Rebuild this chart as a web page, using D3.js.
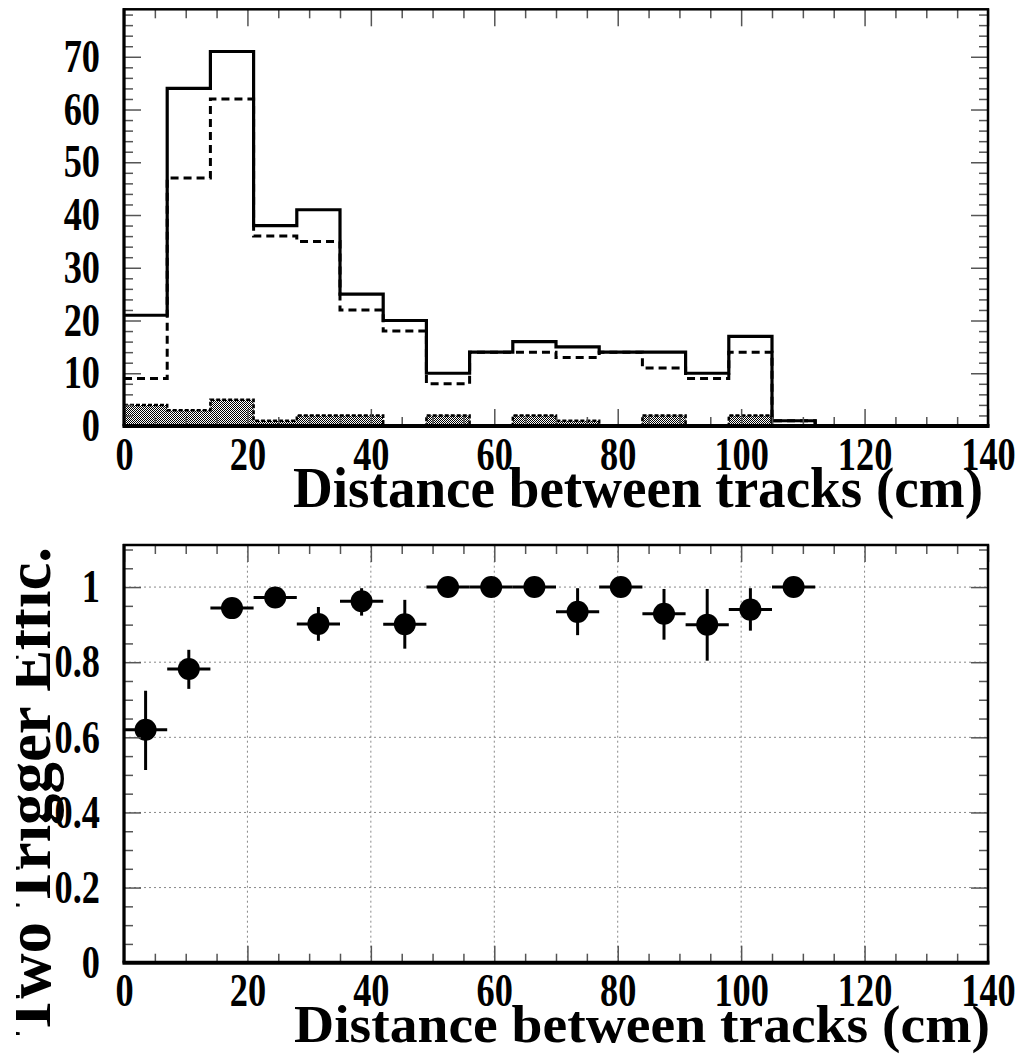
<!DOCTYPE html>
<html>
<head>
<meta charset="utf-8">
<script src="https://cdn.jsdelivr.net/npm/d3@7"></script>
<style>
  body { margin: 0; background: #fff; }
  svg { display: block; }
</style>
</head>
<body>
<svg id="chart" width="1034" height="1058"></svg>
<script>
// ---- Track-pair distance histograms (7 cm bins) ----
const binEdges = [0, 7, 14, 21, 28, 35, 42, 49, 56, 63, 70, 77, 84, 91, 98, 105, 112];
const allPairs = [21, 64, 71, 38, 41, 25, 20, 10, 14, 16, 15, 14, 14, 10, 17, 1];
const triggeredPairs = [9, 47, 62, 36, 35, 22, 18, 8, 14, 14, 13, 14, 11, 9, 14, 1];
const backgroundPairs = [4, 3, 5, 1, 2, 2, 0, 2, 0, 2, 1, 0, 2, 0, 2, 0];

// ---- Two-trigger efficiency per bin ----
const effCentres = [3.5, 10.5, 17.5, 24.5, 31.5, 38.5, 45.5, 52.5, 59.5, 66.5, 73.5, 80.5, 87.5, 94.5, 101.5, 108.5];
const effValues = [0.620, 0.782, 0.944, 0.972, 0.902, 0.962, 0.901, 1.0, 1.0, 1.0, 0.934, 1.0, 0.929, 0.900, 0.940, 1.0];
const effErrUp = [0.104, 0.051, 0.015, 0.012, 0.045, 0.035, 0.065, 0, 0, 0, 0.063, 0, 0.066, 0.095, 0.057, 0];
const effErrDown = [0.107, 0.053, 0.018, 0.015, 0.045, 0.038, 0.065, 0, 0, 0, 0.062, 0, 0.069, 0.096, 0.056, 0];
const effHalfWidth = 3.5;

// ---- Axis ticks and labels ----
const xTicks = [0, 20, 40, 60, 80, 100, 120, 140];
const histYTicks = [0, 10, 20, 30, 40, 50, 60, 70];
const effYTicks = [0, 0.2, 0.4, 0.6, 0.8, 1];
const effYTickLabels = ["0", "0.2", "0.4", "0.6", "0.8", "1"];
const xTitle = "Distance between tracks (cm)";
const effTitle = "Two Trigger Effic.";

const FONT = "'Liberation Serif', 'Times New Roman', Times, serif";
const LABEL_SIZE = 46, LABEL_SQUEEZE = 0.79;
const L = 124, R = 988;
const panelTop = { t: 9.3, b: 426 };
const panelBot = { t: 545, b: 962.7 };

const svg = d3.select("#chart");
const defs = svg.append("defs");

// fine checkerboard used for the background histogram fill
const pat = defs.append("pattern").attr("id", "checker")
  .attr("width", 2).attr("height", 2).attr("patternUnits", "userSpaceOnUse");
pat.append("rect").attr("width", 2).attr("height", 2).attr("fill", "#fff");
pat.append("rect").attr("width", 1).attr("height", 1).attr("fill", "#000");
pat.append("rect").attr("x", 1).attr("y", 1).attr("width", 1).attr("height", 1).attr("fill", "#000");

defs.append("clipPath").attr("id", "ytitle-clip")
  .append("rect").attr("x", 16).attr("y", 0).attr("width", 200).attr("height", 1058);

const x = d3.scaleLinear().domain([0, 140]).range([L, R]);
const yH = d3.scaleLinear().domain([0, 79]).range([panelTop.b, panelTop.t]);
const yE = d3.scaleLinear().domain([0, 1.112]).range([panelBot.b, panelBot.t]);

const xMinor = d3.range(0, 141, 5).filter(v => v % 20 !== 0);
const histYMinor = d3.range(0, 79, 2).filter(v => v % 10 !== 0);
const effYMinor = d3.range(0, 23).filter(i => i % 4 !== 0).map(i => i * 0.05);

function styleTicks(g) {
  g.select(".domain").remove();
  g.attr("font-family", FONT).attr("font-size", LABEL_SIZE).attr("font-weight", "bold");
  g.selectAll(".tick line").attr("stroke", "#555").attr("stroke-width", 1.5);
  g.selectAll(".tick text").attr("fill", "#000");
}

// ticks on all four sides (pointing inward), labels on bottom and left, and the frame
function drawAxes(panel, y, yMajor, yMinor, yFmt) {
  const g = svg.append("g");
  const T = panel.t, B = panel.b;
  g.append("g").attr("transform", `translate(0,${B})`)
    .call(d3.axisBottom(x).tickValues(xMinor).tickSize(-9).tickFormat("")).call(styleTicks);
  g.append("g").attr("transform", `translate(0,${B})`)
    .call(d3.axisBottom(x).tickValues(xTicks).tickSize(-17).tickPadding(11).tickFormat(d3.format("d")))
    .call(styleTicks)
    .call(s => s.selectAll(".tick text").attr("transform", `scale(${LABEL_SQUEEZE},1)`));
  g.append("g").attr("transform", `translate(0,${T})`)
    .call(d3.axisTop(x).tickValues(xMinor).tickSize(-9).tickFormat("")).call(styleTicks);
  g.append("g").attr("transform", `translate(0,${T})`)
    .call(d3.axisTop(x).tickValues(xTicks).tickSize(-17).tickFormat("")).call(styleTicks);
  g.append("g").attr("transform", `translate(${L},0)`)
    .call(d3.axisLeft(y).tickValues(yMinor).tickSize(-9).tickFormat("")).call(styleTicks);
  g.append("g").attr("transform", `translate(${L},0)`)
    .call(d3.axisLeft(y).tickValues(yMajor).tickSize(-17).tickFormat(yFmt))
    .call(styleTicks)
    .call(s => s.selectAll(".tick text").attr("x", -24 / LABEL_SQUEEZE)
      .attr("transform", `scale(${LABEL_SQUEEZE},1)`));
  g.append("g").attr("transform", `translate(${R},0)`)
    .call(d3.axisRight(y).tickValues(yMinor).tickSize(-9).tickFormat("")).call(styleTicks);
  g.append("g").attr("transform", `translate(${R},0)`)
    .call(d3.axisRight(y).tickValues(yMajor).tickSize(-17).tickFormat("")).call(styleTicks);
  g.append("rect").attr("x", L).attr("y", T).attr("width", R - L).attr("height", B - T)
    .attr("fill", "none").attr("stroke", "#000").attr("stroke-width", 2.5);
  g.append("line").attr("x1", L - 1.5).attr("x2", R + 1.5).attr("y1", B).attr("y2", B)
    .attr("stroke", "#000").attr("stroke-width", 4);
  g.append("line").attr("x1", L).attr("x2", L).attr("y1", T - 1).attr("y2", B)
    .attr("stroke", "#000").attr("stroke-width", 3);
}

// ================= Top panel: histograms =================
function stepPoints(values) {
  const pts = values.map((v, i) => ({ x: binEdges[i], v }));
  pts.push({ x: binEdges[values.length], v: values[values.length - 1] });
  return pts;
}
const stepLine = d3.line().curve(d3.curveStepAfter).x(d => x(d.x)).y(d => yH(d.v));
const stepArea = d3.area().curve(d3.curveStepAfter).x(d => x(d.x)).y0(yH(0)).y1(d => yH(d.v));
const plainLine = d3.line().x(d => x(d.x)).y(d => yH(d.v));

// step outline that closes with a drop to zero after the last bin
function stepPath(values) {
  const p = [];
  values.forEach((v, i) => { p.push({ x: binEdges[i], v }); p.push({ x: binEdges[i + 1], v }); });
  p.push({ x: binEdges[values.length], v: 0 });
  return plainLine(p);
}

const hist = svg.append("g");
hist.append("path").datum(stepPoints(backgroundPairs))
  .attr("d", stepArea).attr("fill", "url(#checker)");
hist.append("path").datum(stepPoints(backgroundPairs))
  .attr("d", stepLine).attr("fill", "none").attr("stroke", "#000")
  .attr("stroke-width", 2.5).attr("stroke-dasharray", "4,2");
hist.append("path").attr("d", stepPath(triggeredPairs))
  .attr("fill", "none").attr("stroke", "#000").attr("stroke-width", 3)
  .attr("stroke-dasharray", "8,5");
hist.append("path").attr("d", stepPath(allPairs))
  .attr("fill", "none").attr("stroke", "#000").attr("stroke-width", 3.2);

drawAxes(panelTop, yH, histYTicks, histYMinor, d3.format("d"));

// ================= Bottom panel: efficiency =================
const grid = svg.append("g").attr("stroke", "#888").attr("stroke-width", 1).attr("stroke-dasharray", "2,3");
grid.selectAll("line.v").data(xTicks.filter(v => v > 0 && v < 140)).join("line").attr("class", "v")
  .attr("x1", d => x(d)).attr("x2", d => x(d)).attr("y1", panelBot.b).attr("y2", panelBot.t);
grid.selectAll("line.h").data(effYTicks.filter(v => v > 0)).join("line").attr("class", "h")
  .attr("x1", L).attr("x2", R).attr("y1", d => yE(d)).attr("y2", d => yE(d));

const effData = effCentres.map((c, i) => ({ c, v: effValues[i], up: effErrUp[i], dn: effErrDown[i] }));
const pts = svg.append("g");
pts.selectAll("line.xerr").data(effData).join("line").attr("class", "xerr")
  .attr("x1", d => x(d.c - effHalfWidth)).attr("x2", d => x(d.c + effHalfWidth))
  .attr("y1", d => yE(d.v)).attr("y2", d => yE(d.v))
  .attr("stroke", "#000").attr("stroke-width", 3);
pts.selectAll("line.yerr").data(effData.filter(d => d.up + d.dn > 0)).join("line").attr("class", "yerr")
  .attr("x1", d => x(d.c)).attr("x2", d => x(d.c))
  .attr("y1", d => yE(d.v + d.up)).attr("y2", d => yE(d.v - d.dn))
  .attr("stroke", "#000").attr("stroke-width", 3);
pts.selectAll("circle").data(effData).join("circle")
  .attr("cx", d => x(d.c)).attr("cy", d => yE(d.v)).attr("r", 11).attr("fill", "#000");

drawAxes(panelBot, yE, effYTicks, effYMinor, d => effYTickLabels[effYTicks.indexOf(d)]);

// ================= Titles =================
svg.append("text").text(xTitle)
  .attr("x", 293).attr("y", 507)
  .attr("font-family", FONT).attr("font-weight", "bold").attr("font-size", 57)
  .attr("textLength", 690).attr("lengthAdjust", "spacingAndGlyphs");
svg.append("text").text(xTitle)
  .attr("x", 294).attr("y", 1042)
  .attr("font-family", FONT).attr("font-weight", "bold").attr("font-size", 53)
  .attr("textLength", 696).attr("lengthAdjust", "spacingAndGlyphs");

svg.append("g").attr("clip-path", "url(#ytitle-clip)")
  .append("text").text(effTitle)
  .attr("transform", "translate(50,1036) rotate(-90)")
  .attr("font-family", FONT).attr("font-weight", "bold").attr("font-size", 64)
  .attr("textLength", 489).attr("lengthAdjust", "spacingAndGlyphs");
</script>
</body>
</html>
